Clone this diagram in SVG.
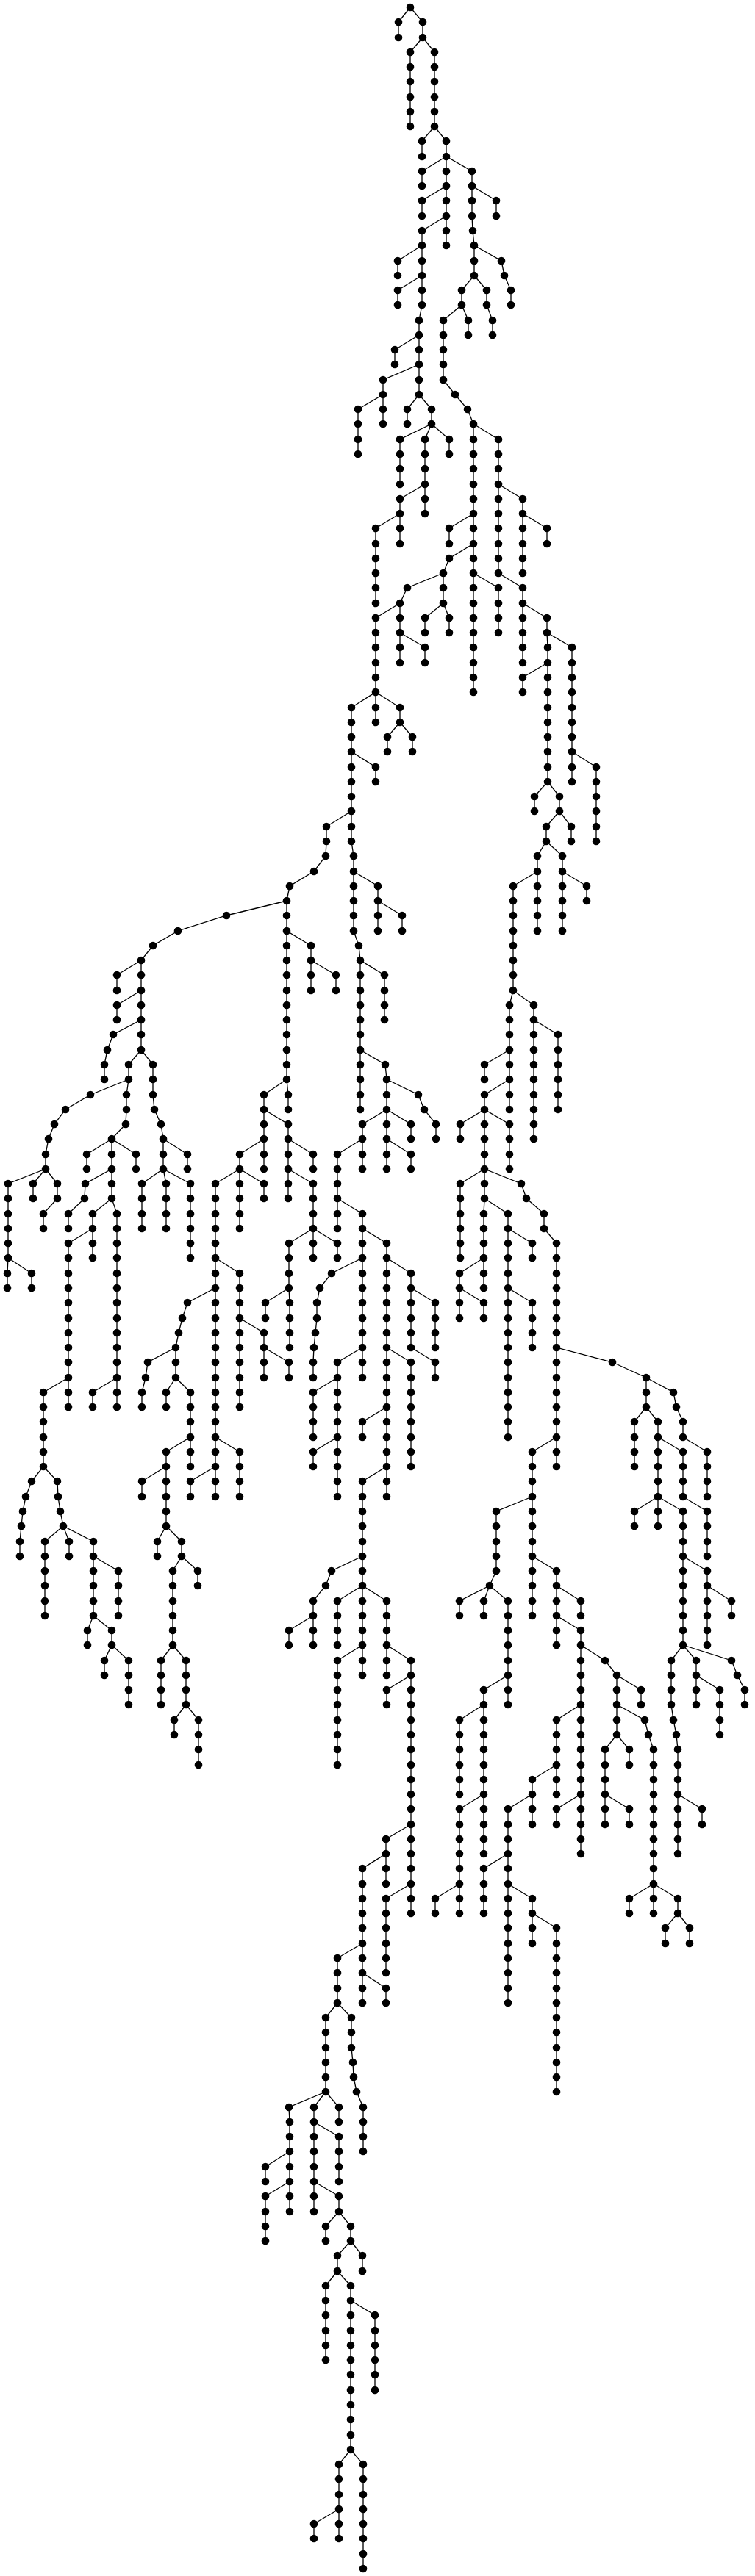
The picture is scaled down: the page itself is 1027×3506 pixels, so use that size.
<svg xmlns="http://www.w3.org/2000/svg" width="1027" height="3506" viewBox="0 0 1027 3506">
<style>
.e{fill:none;stroke:#000;stroke-width:1.3}
circle{fill:#000;r:5.3px}
</style>
<rect width="1027" height="3506" fill="#fff"/>
<g id="connectors">
<path class="e" d="M558 10L542 30V51M558 10L575 30V51M575 51L558 71V172M575 51L591 71V172M591 172L574 192V213M591 172L607 192V213M607 213L574 233V253M607 213V253M607 253L574 273V294M607 253V294M607 294L574 314V334M607 294V334M574 334L541 355V375M574 334V375M574 375L541 395V415M574 375V415L570 436M607 213L642 233V253M642 253L675 273V294M642 253V294L643 314L645 334M645 334L682 355L686 375L695 395V415M645 334V375M645 375L628 395V415M628 415L603 436M628 415L637 436V456M645 375L662 395V415L670 436V456M570 436V456M570 456L537 476V496M570 456V537M570 496L521 517V537M521 537L487 557V618M521 537V577M570 537L554 557V577M570 537L587 557V577M587 577L544 598V659M587 577L578 598V659M587 577L611 598V618M578 659L544 679V699M578 659V699M544 699L511 719V821M544 699V740M603 436V517M603 517L619 537L636 557L644 577M644 577V699M644 699L611 719V740M644 699V740M644 740L611 760L603 780M603 780L554 800L544 821M544 821L511 841V861M544 821V861M603 780V821M603 821L578 841V861M603 821L611 841V861M644 740V780M644 780V861M644 780L678 800V861M644 577L678 598V659M678 659V780M678 780L711 800V821M711 821V861M711 821L744 841V861M678 659L711 679V699M711 699V780M711 699L744 719V740"/>
<path class="e" d="M511 861V942M511 942V983M511 942L544 963V983M544 983L527 1003V1023M544 983L561 1003V1023M511 942L478 963V1023M478 1023L511 1044V1064M478 1023V1104M478 1104L444 1125V1145L443 1165L427 1186L394 1206L390 1226M478 1104V1145L481 1165V1186M481 1186V1267M481 1186L514 1206V1226M514 1226V1267M514 1226L547 1246V1267M544 861V902M544 861L578 881V902M644 861V942M711 861V902M744 861L745 881V902M745 902L711 922V942M745 902V1064M745 1064L727 1084V1104M745 1064L761 1084V1104M761 1104L777 1125V1145M761 1104L743 1125V1145M743 1145L731 1165V1186M731 1186L698 1206V1348M731 1186V1267M743 1145L765 1165V1186M765 1186V1267M765 1186L798 1206V1226M744 861L778 881V1023M778 1023V1064M778 1023L811 1044V1145"/>
<path class="e" d="M390 1226V1469M390 1469L392 1490V1510M390 1469L359 1490V1510M359 1510V1550M359 1510L392 1530V1550M359 1550L326 1571V1591M359 1550V1591M326 1591L293 1611V1631M326 1591V1631M326 1591L359 1611V1631M392 1550L426 1571V1591M392 1550V1591M392 1591V1631M392 1591L426 1611V1631M390 1267L423 1287V1307M423 1307V1348M423 1307L457 1327V1348M390 1226L308 1246L242 1267L208 1287L192 1307M192 1307L159 1327V1348M192 1307V1348M192 1348L159 1368V1388M192 1348V1388M192 1388L154 1408L146 1429L142 1449V1469M192 1388V1429M192 1429L175 1449V1469M192 1429L208 1449V1490L210 1510L219 1530L222 1550M175 1469L123 1490L89 1510L74 1530L66 1550L62 1571V1591M62 1591L11 1611V1631M62 1591L45 1611V1631M62 1591L78 1611V1631M175 1469L172 1490V1510L171 1530L152 1550M152 1550L118 1571V1591M152 1550V1591M152 1550L185 1571V1591M152 1591L116 1611L115 1631M152 1591V1631M222 1550L255 1571V1591M222 1550V1591M222 1591L193 1611V1631M222 1591L226 1611V1631M222 1591L259 1611V1631M481 1267L488 1287L490 1307M490 1307L523 1327V1388M490 1307V1429M490 1429V1510M490 1429L524 1449L526 1469M526 1469L569 1490L577 1510L593 1530V1550M526 1469V1510M526 1510L493 1530V1550M526 1510V1550M526 1510L559 1530V1550M493 1550L459 1571V1631M493 1550V1591M526 1550V1591M526 1550L559 1571V1591M698 1348L693 1368V1429M693 1429L659 1449V1469M693 1429V1469M693 1469V1510M693 1469L659 1490V1510M659 1510L626 1530V1550M659 1510L693 1530V1591M659 1510V1591M659 1591L626 1611V1712M659 1591V1631M659 1591L709 1611L716 1631M698 1348L726 1368V1388M726 1388V1550M726 1388L759 1408V1510"/>
<path class="e" d="M11 1631V1712M11 1712L10 1733V1753M11 1712L43 1733V1753M78 1631L59 1652V1672M115 1631L93 1652V1672M152 1631L126 1652V1672M126 1672V1712M126 1672L93 1692V1875M93 1875V1915M93 1875L59 1895V1996M59 1996L43 2016L35 2037M59 1996L78 2016L79 2037M152 1631L159 1652V1875M159 1875L126 1895V1915M159 1875V1915M193 1631V1672M226 1631V1672M259 1631V1712M293 1631V1753M293 1712L326 1733V1794M326 1794V1915M326 1794L359 1814V1834M359 1834V1875M359 1834L393 1854V1875M293 1753L255 1773L248 1794L243 1814L239 1834M239 1834L201 1854L198 1875L193 1895V1915M239 1834V1875M239 1875L226 1895V1915M239 1875L259 1895V1956M259 1956V1996M259 1956L226 1976V1996M226 1996L193 2016V2037M226 1996V2037M293 1753V1956M293 1956V1996M293 1996L259 2016V2037M293 1996V2037M293 1956L326 1976V2037M326 1631V1672M426 1631V1672M426 1672L393 1692V1753M426 1672V1712M426 1672L459 1692V1712M393 1753L361 1773V1794M393 1753L394 1773V1834M459 1631V1672M459 1631L493 1652V1712M493 1672L526 1692V1712M493 1712L451 1733L435 1753L431 1773V1794L429 1814L427 1834L426 1854V1875M493 1712V1834M493 1834V1875M493 1834L459 1854V1875M459 1875L426 1895V1956M459 1875V1956M459 1956L426 1976V1996M459 1956V2037M526 1712V1834M526 1712L559 1733V1753M559 1753V1834M559 1753L592 1773V1834M559 1834L592 1854V1875M526 1834V1915M526 1834L559 1854V1996M526 1915L493 1935V1956M526 1915V1996M526 1996L493 2016V2037M526 1996V2037M659 1631L658 1652V1712M658 1712L625 1733V1753M658 1712V1753M625 1753V1794M625 1753L658 1773V1794M659 1631L691 1652V1672M691 1672L724 1692V1712M691 1672V1753M691 1753L724 1773V1834M691 1753V1956M716 1631L740 1652V1672L757 1692M757 1692V1834M757 1834V1956M757 1956V1996M757 1956L724 1976V2037M757 1834L833 1854L879 1875M879 1875V1915M879 1915L863 1935V1996M879 1915L895 1935V1956M895 1956V2037M895 1956L929 1976V2037M879 1875L916 1895L920 1915L929 1935V1956M929 1956L962 1976V2037"/>
<path class="e" d="M35 2037L31 2057L29 2077L27 2098V2118M79 2037L82 2057L86 2077M86 2077L61 2098V2199M86 2077L94 2098V2118M86 2077L127 2098V2118M127 2118L161 2138V2199M127 2118V2199M127 2199L119 2219V2239M127 2199L152 2219V2239M152 2239L142 2260V2280M152 2239L175 2260V2320M226 2037V2077M226 2077L214 2098V2118M226 2077L247 2098V2118M247 2118L269 2138V2158M247 2118L235 2138V2239M235 2239L219 2260V2320M235 2239L253 2260V2320M253 2320L237 2341V2361M253 2320L270 2341V2402M493 2037V2118M493 2118L451 2138L443 2158L426 2179V2199M426 2199L393 2219V2239M426 2199V2239M493 2118V2158M493 2158L459 2179V2239M493 2158V2239M493 2158L526 2179V2239M493 2239L459 2260V2402M493 2239V2280M526 2239V2280M526 2239L559 2260V2280M559 2280L526 2300V2320M559 2280V2483M724 2037L675 2057V2138L666 2158M666 2158L625 2179V2199M666 2158L658 2179V2199M666 2158L691 2179V2280M691 2280V2320M691 2280L658 2300V2320M658 2320L625 2341V2442M658 2320V2442M724 2037V2118M724 2118V2199M724 2118L757 2138V2158M757 2158L790 2179V2199M757 2158V2199M757 2199V2239M757 2199L790 2219V2239M790 2239V2320M790 2239L823 2260L839 2280M839 2280L872 2300V2320M839 2280V2320M839 2320V2361M839 2320L877 2341L882 2361L889 2381V2564M839 2361L823 2381V2442M839 2361L856 2381V2402M790 2320L757 2341V2402M790 2320V2442M757 2402L724 2422V2442M757 2402V2442M895 2037L863 2057V2077M895 2037V2077M895 2037L929 2057V2118M929 2037L962 2057V2118M929 2118V2239M929 2118L962 2138V2158M962 2158V2239M962 2158L995 2179V2199M929 2239L913 2260V2320L916 2341L920 2361L922 2381V2523M929 2239L947 2260V2280M947 2280V2320M947 2280L979 2300V2361M929 2239L995 2260L1003 2280L1013 2300V2320"/>
<path class="e" d="M922 2442L955 2462V2483M889 2564L856 2584V2604M889 2564V2604M889 2564L922 2584V2604M922 2604L905 2624V2645M922 2604L938 2624V2645M823 2442V2483M823 2442L856 2462V2483M790 2442L757 2462V2483M790 2442V2523M724 2442V2483M724 2442L691 2462V2523M691 2523L658 2543V2604M691 2523V2564M691 2564V2726M691 2564L724 2584V2604M724 2604V2645M724 2604L757 2624V2847M658 2442L625 2462V2564M658 2442V2523M625 2564L592 2584V2604M625 2564V2604M559 2483L525 2503V2523M525 2523V2564M525 2523L493 2543V2645M493 2645V2685M493 2685V2726M493 2685L525 2706V2726M493 2645L459 2665V2726M459 2726L443 2746V2847M459 2726L478 2746V2787L480 2807L481 2827L485 2847L494 2868V2928M443 2847L393 2868L394 2888V3010M394 2928L361 2949V2969M394 2969L361 2989V3050M443 2847L427 2868V2888M443 2847L461 2868V2888M427 2888V2969M427 2888L461 2908V2969M427 2969V3010M427 2969L461 2989V3010M461 3010L443 3030V3050M461 3010L477 3030V3050M477 3050L493 3070V3091M477 3050L459 3070V3091M459 3091L443 3111V3212M459 3091L477 3111V3131M477 3131L510 3151V3253M477 3131V3334M477 3334L461 3354V3415M477 3334L494 3354V3496M461 3415L427 3435V3455M461 3415V3455M559 2483V2564M559 2564L525 2584V2685M559 2564V2604"/>
</g>
<g id="nodes">
<circle id="n558_10" cx="558" cy="10"/>
<circle id="n542_30" cx="542" cy="30"/><circle id="n542_51" cx="542" cy="51"/>
<circle id="n575_30" cx="575" cy="30"/><circle id="n575_51" cx="575" cy="51"/>
<circle id="n558_71" cx="558" cy="71"/><circle id="n558_91" cx="558" cy="91"/><circle id="n558_111" cx="558" cy="111"/><circle id="n558_132" cx="558" cy="132"/><circle id="n558_152" cx="558" cy="152"/><circle id="n558_172" cx="558" cy="172"/>
<circle id="n591_71" cx="591" cy="71"/><circle id="n591_91" cx="591" cy="91"/><circle id="n591_111" cx="591" cy="111"/><circle id="n591_132" cx="591" cy="132"/><circle id="n591_152" cx="591" cy="152"/><circle id="n591_172" cx="591" cy="172"/>
<circle id="n574_192" cx="574" cy="192"/><circle id="n574_213" cx="574" cy="213"/>
<circle id="n607_192" cx="607" cy="192"/><circle id="n607_213" cx="607" cy="213"/>
<circle id="n574_233" cx="574" cy="233"/><circle id="n574_253" cx="574" cy="253"/>
<circle id="n607_233" cx="607" cy="233"/><circle id="n607_253" cx="607" cy="253"/>
<circle id="n574_273" cx="574" cy="273"/><circle id="n574_294" cx="574" cy="294"/>
<circle id="n607_273" cx="607" cy="273"/><circle id="n607_294" cx="607" cy="294"/>
<circle id="n574_314" cx="574" cy="314"/><circle id="n574_334" cx="574" cy="334"/>
<circle id="n607_314" cx="607" cy="314"/><circle id="n607_334" cx="607" cy="334"/>
<circle id="n541_355" cx="541" cy="355"/><circle id="n541_375" cx="541" cy="375"/>
<circle id="n574_355" cx="574" cy="355"/><circle id="n574_375" cx="574" cy="375"/>
<circle id="n541_395" cx="541" cy="395"/><circle id="n541_415" cx="541" cy="415"/>
<circle id="n574_395" cx="574" cy="395"/><circle id="n574_415" cx="574" cy="415"/><circle id="n570_436" cx="570" cy="436"/>
<circle id="n642_233" cx="642" cy="233"/><circle id="n642_253" cx="642" cy="253"/>
<circle id="n675_273" cx="675" cy="273"/><circle id="n675_294" cx="675" cy="294"/>
<circle id="n642_273" cx="642" cy="273"/><circle id="n642_294" cx="642" cy="294"/><circle id="n643_314" cx="643" cy="314"/><circle id="n645_334" cx="645" cy="334"/>
<circle id="n682_355" cx="682" cy="355"/><circle id="n686_375" cx="686" cy="375"/><circle id="n695_395" cx="695" cy="395"/><circle id="n695_415" cx="695" cy="415"/>
<circle id="n645_355" cx="645" cy="355"/><circle id="n645_375" cx="645" cy="375"/>
<circle id="n628_395" cx="628" cy="395"/><circle id="n628_415" cx="628" cy="415"/>
<circle id="n603_436" cx="603" cy="436"/>
<circle id="n637_436" cx="637" cy="436"/><circle id="n637_456" cx="637" cy="456"/>
<circle id="n662_395" cx="662" cy="395"/><circle id="n662_415" cx="662" cy="415"/><circle id="n670_436" cx="670" cy="436"/><circle id="n670_456" cx="670" cy="456"/>
<circle id="n570_456" cx="570" cy="456"/>
<circle id="n537_476" cx="537" cy="476"/><circle id="n537_496" cx="537" cy="496"/>
<circle id="n570_476" cx="570" cy="476"/><circle id="n570_496" cx="570" cy="496"/><circle id="n570_517" cx="570" cy="517"/><circle id="n570_537" cx="570" cy="537"/>
<circle id="n521_517" cx="521" cy="517"/><circle id="n521_537" cx="521" cy="537"/>
<circle id="n487_557" cx="487" cy="557"/><circle id="n487_577" cx="487" cy="577"/><circle id="n487_598" cx="487" cy="598"/><circle id="n487_618" cx="487" cy="618"/>
<circle id="n521_557" cx="521" cy="557"/><circle id="n521_577" cx="521" cy="577"/>
<circle id="n554_557" cx="554" cy="557"/><circle id="n554_577" cx="554" cy="577"/>
<circle id="n587_557" cx="587" cy="557"/><circle id="n587_577" cx="587" cy="577"/>
<circle id="n544_598" cx="544" cy="598"/><circle id="n544_618" cx="544" cy="618"/><circle id="n544_638" cx="544" cy="638"/><circle id="n544_659" cx="544" cy="659"/>
<circle id="n578_598" cx="578" cy="598"/><circle id="n578_618" cx="578" cy="618"/><circle id="n578_638" cx="578" cy="638"/><circle id="n578_659" cx="578" cy="659"/>
<circle id="n611_598" cx="611" cy="598"/><circle id="n611_618" cx="611" cy="618"/>
<circle id="n544_679" cx="544" cy="679"/><circle id="n544_699" cx="544" cy="699"/>
<circle id="n578_679" cx="578" cy="679"/><circle id="n578_699" cx="578" cy="699"/>
<circle id="n511_719" cx="511" cy="719"/><circle id="n511_740" cx="511" cy="740"/><circle id="n511_760" cx="511" cy="760"/><circle id="n511_780" cx="511" cy="780"/><circle id="n511_800" cx="511" cy="800"/><circle id="n511_821" cx="511" cy="821"/>
<circle id="n544_719" cx="544" cy="719"/><circle id="n544_740" cx="544" cy="740"/>
<circle id="n603_456" cx="603" cy="456"/><circle id="n603_476" cx="603" cy="476"/><circle id="n603_496" cx="603" cy="496"/><circle id="n603_517" cx="603" cy="517"/>
<circle id="n619_537" cx="619" cy="537"/><circle id="n636_557" cx="636" cy="557"/><circle id="n644_577" cx="644" cy="577"/>
<circle id="n644_598" cx="644" cy="598"/><circle id="n644_618" cx="644" cy="618"/><circle id="n644_638" cx="644" cy="638"/><circle id="n644_659" cx="644" cy="659"/><circle id="n644_679" cx="644" cy="679"/><circle id="n644_699" cx="644" cy="699"/>
<circle id="n611_719" cx="611" cy="719"/><circle id="n611_740" cx="611" cy="740"/>
<circle id="n644_719" cx="644" cy="719"/><circle id="n644_740" cx="644" cy="740"/>
<circle id="n611_760" cx="611" cy="760"/><circle id="n603_780" cx="603" cy="780"/>
<circle id="n554_800" cx="554" cy="800"/><circle id="n544_821" cx="544" cy="821"/>
<circle id="n511_841" cx="511" cy="841"/><circle id="n511_861" cx="511" cy="861"/>
<circle id="n544_841" cx="544" cy="841"/><circle id="n544_861" cx="544" cy="861"/>
<circle id="n603_800" cx="603" cy="800"/><circle id="n603_821" cx="603" cy="821"/>
<circle id="n578_841" cx="578" cy="841"/><circle id="n578_861" cx="578" cy="861"/>
<circle id="n611_841" cx="611" cy="841"/><circle id="n611_861" cx="611" cy="861"/>
<circle id="n644_760" cx="644" cy="760"/><circle id="n644_780" cx="644" cy="780"/>
<circle id="n644_800" cx="644" cy="800"/><circle id="n644_821" cx="644" cy="821"/><circle id="n644_841" cx="644" cy="841"/><circle id="n644_861" cx="644" cy="861"/>
<circle id="n678_800" cx="678" cy="800"/><circle id="n678_821" cx="678" cy="821"/><circle id="n678_841" cx="678" cy="841"/><circle id="n678_861" cx="678" cy="861"/>
<circle id="n678_598" cx="678" cy="598"/><circle id="n678_618" cx="678" cy="618"/><circle id="n678_638" cx="678" cy="638"/><circle id="n678_659" cx="678" cy="659"/>
<circle id="n678_679" cx="678" cy="679"/><circle id="n678_699" cx="678" cy="699"/><circle id="n678_719" cx="678" cy="719"/><circle id="n678_740" cx="678" cy="740"/><circle id="n678_760" cx="678" cy="760"/><circle id="n678_780" cx="678" cy="780"/>
<circle id="n711_800" cx="711" cy="800"/><circle id="n711_821" cx="711" cy="821"/>
<circle id="n711_841" cx="711" cy="841"/><circle id="n711_861" cx="711" cy="861"/>
<circle id="n744_841" cx="744" cy="841"/><circle id="n744_861" cx="744" cy="861"/>
<circle id="n711_679" cx="711" cy="679"/><circle id="n711_699" cx="711" cy="699"/>
<circle id="n711_719" cx="711" cy="719"/><circle id="n711_740" cx="711" cy="740"/><circle id="n711_760" cx="711" cy="760"/><circle id="n711_780" cx="711" cy="780"/>
<circle id="n744_719" cx="744" cy="719"/><circle id="n744_740" cx="744" cy="740"/>
<circle id="n511_881" cx="511" cy="881"/><circle id="n511_902" cx="511" cy="902"/><circle id="n511_922" cx="511" cy="922"/><circle id="n511_942" cx="511" cy="942"/>
<circle id="n511_963" cx="511" cy="963"/><circle id="n511_983" cx="511" cy="983"/>
<circle id="n544_963" cx="544" cy="963"/><circle id="n544_983" cx="544" cy="983"/>
<circle id="n527_1003" cx="527" cy="1003"/><circle id="n527_1023" cx="527" cy="1023"/>
<circle id="n561_1003" cx="561" cy="1003"/><circle id="n561_1023" cx="561" cy="1023"/>
<circle id="n478_963" cx="478" cy="963"/><circle id="n478_983" cx="478" cy="983"/><circle id="n478_1003" cx="478" cy="1003"/><circle id="n478_1023" cx="478" cy="1023"/>
<circle id="n511_1044" cx="511" cy="1044"/><circle id="n511_1064" cx="511" cy="1064"/>
<circle id="n478_1044" cx="478" cy="1044"/><circle id="n478_1064" cx="478" cy="1064"/><circle id="n478_1084" cx="478" cy="1084"/><circle id="n478_1104" cx="478" cy="1104"/>
<circle id="n444_1125" cx="444" cy="1125"/><circle id="n444_1145" cx="444" cy="1145"/><circle id="n443_1165" cx="443" cy="1165"/><circle id="n427_1186" cx="427" cy="1186"/><circle id="n394_1206" cx="394" cy="1206"/><circle id="n390_1226" cx="390" cy="1226"/>
<circle id="n478_1125" cx="478" cy="1125"/><circle id="n478_1145" cx="478" cy="1145"/><circle id="n481_1165" cx="481" cy="1165"/><circle id="n481_1186" cx="481" cy="1186"/>
<circle id="n481_1206" cx="481" cy="1206"/><circle id="n481_1226" cx="481" cy="1226"/><circle id="n481_1246" cx="481" cy="1246"/><circle id="n481_1267" cx="481" cy="1267"/>
<circle id="n514_1206" cx="514" cy="1206"/><circle id="n514_1226" cx="514" cy="1226"/>
<circle id="n514_1246" cx="514" cy="1246"/><circle id="n514_1267" cx="514" cy="1267"/>
<circle id="n547_1246" cx="547" cy="1246"/><circle id="n547_1267" cx="547" cy="1267"/>
<circle id="n544_881" cx="544" cy="881"/><circle id="n544_902" cx="544" cy="902"/>
<circle id="n578_881" cx="578" cy="881"/><circle id="n578_902" cx="578" cy="902"/>
<circle id="n644_881" cx="644" cy="881"/><circle id="n644_902" cx="644" cy="902"/><circle id="n644_922" cx="644" cy="922"/><circle id="n644_942" cx="644" cy="942"/>
<circle id="n711_881" cx="711" cy="881"/><circle id="n711_902" cx="711" cy="902"/>
<circle id="n745_881" cx="745" cy="881"/><circle id="n745_902" cx="745" cy="902"/>
<circle id="n711_922" cx="711" cy="922"/><circle id="n711_942" cx="711" cy="942"/>
<circle id="n745_922" cx="745" cy="922"/><circle id="n745_942" cx="745" cy="942"/><circle id="n745_963" cx="745" cy="963"/><circle id="n745_983" cx="745" cy="983"/><circle id="n745_1003" cx="745" cy="1003"/><circle id="n745_1023" cx="745" cy="1023"/><circle id="n745_1044" cx="745" cy="1044"/><circle id="n745_1064" cx="745" cy="1064"/>
<circle id="n727_1084" cx="727" cy="1084"/><circle id="n727_1104" cx="727" cy="1104"/>
<circle id="n761_1084" cx="761" cy="1084"/><circle id="n761_1104" cx="761" cy="1104"/>
<circle id="n777_1125" cx="777" cy="1125"/><circle id="n777_1145" cx="777" cy="1145"/>
<circle id="n743_1125" cx="743" cy="1125"/><circle id="n743_1145" cx="743" cy="1145"/>
<circle id="n731_1165" cx="731" cy="1165"/><circle id="n731_1186" cx="731" cy="1186"/>
<circle id="n698_1206" cx="698" cy="1206"/><circle id="n698_1226" cx="698" cy="1226"/><circle id="n698_1246" cx="698" cy="1246"/><circle id="n698_1267" cx="698" cy="1267"/><circle id="n698_1287" cx="698" cy="1287"/><circle id="n698_1307" cx="698" cy="1307"/><circle id="n698_1327" cx="698" cy="1327"/><circle id="n698_1348" cx="698" cy="1348"/>
<circle id="n731_1206" cx="731" cy="1206"/><circle id="n731_1226" cx="731" cy="1226"/><circle id="n731_1246" cx="731" cy="1246"/><circle id="n731_1267" cx="731" cy="1267"/>
<circle id="n765_1165" cx="765" cy="1165"/><circle id="n765_1186" cx="765" cy="1186"/>
<circle id="n765_1206" cx="765" cy="1206"/><circle id="n765_1226" cx="765" cy="1226"/><circle id="n765_1246" cx="765" cy="1246"/><circle id="n765_1267" cx="765" cy="1267"/>
<circle id="n798_1206" cx="798" cy="1206"/><circle id="n798_1226" cx="798" cy="1226"/>
<circle id="n778_881" cx="778" cy="881"/><circle id="n778_902" cx="778" cy="902"/><circle id="n778_922" cx="778" cy="922"/><circle id="n778_942" cx="778" cy="942"/><circle id="n778_963" cx="778" cy="963"/><circle id="n778_983" cx="778" cy="983"/><circle id="n778_1003" cx="778" cy="1003"/><circle id="n778_1023" cx="778" cy="1023"/>
<circle id="n778_1044" cx="778" cy="1044"/><circle id="n778_1064" cx="778" cy="1064"/>
<circle id="n811_1044" cx="811" cy="1044"/><circle id="n811_1064" cx="811" cy="1064"/><circle id="n811_1084" cx="811" cy="1084"/><circle id="n811_1104" cx="811" cy="1104"/><circle id="n811_1125" cx="811" cy="1125"/><circle id="n811_1145" cx="811" cy="1145"/>
<circle id="n390_1246" cx="390" cy="1246"/><circle id="n390_1267" cx="390" cy="1267"/><circle id="n390_1287" cx="390" cy="1287"/><circle id="n390_1307" cx="390" cy="1307"/><circle id="n390_1327" cx="390" cy="1327"/><circle id="n390_1348" cx="390" cy="1348"/><circle id="n390_1368" cx="390" cy="1368"/><circle id="n390_1388" cx="390" cy="1388"/><circle id="n390_1408" cx="390" cy="1408"/><circle id="n390_1429" cx="390" cy="1429"/><circle id="n390_1449" cx="390" cy="1449"/><circle id="n390_1469" cx="390" cy="1469"/>
<circle id="n392_1490" cx="392" cy="1490"/><circle id="n392_1510" cx="392" cy="1510"/>
<circle id="n359_1490" cx="359" cy="1490"/><circle id="n359_1510" cx="359" cy="1510"/>
<circle id="n359_1530" cx="359" cy="1530"/><circle id="n359_1550" cx="359" cy="1550"/>
<circle id="n392_1530" cx="392" cy="1530"/><circle id="n392_1550" cx="392" cy="1550"/>
<circle id="n326_1571" cx="326" cy="1571"/><circle id="n326_1591" cx="326" cy="1591"/>
<circle id="n359_1571" cx="359" cy="1571"/><circle id="n359_1591" cx="359" cy="1591"/>
<circle id="n293_1611" cx="293" cy="1611"/><circle id="n293_1631" cx="293" cy="1631"/>
<circle id="n326_1611" cx="326" cy="1611"/><circle id="n326_1631" cx="326" cy="1631"/>
<circle id="n359_1611" cx="359" cy="1611"/><circle id="n359_1631" cx="359" cy="1631"/>
<circle id="n426_1571" cx="426" cy="1571"/><circle id="n426_1591" cx="426" cy="1591"/>
<circle id="n392_1571" cx="392" cy="1571"/><circle id="n392_1591" cx="392" cy="1591"/>
<circle id="n392_1611" cx="392" cy="1611"/><circle id="n392_1631" cx="392" cy="1631"/>
<circle id="n426_1611" cx="426" cy="1611"/><circle id="n426_1631" cx="426" cy="1631"/>
<circle id="n423_1287" cx="423" cy="1287"/><circle id="n423_1307" cx="423" cy="1307"/>
<circle id="n423_1327" cx="423" cy="1327"/><circle id="n423_1348" cx="423" cy="1348"/>
<circle id="n457_1327" cx="457" cy="1327"/><circle id="n457_1348" cx="457" cy="1348"/>
<circle id="n308_1246" cx="308" cy="1246"/><circle id="n242_1267" cx="242" cy="1267"/><circle id="n208_1287" cx="208" cy="1287"/><circle id="n192_1307" cx="192" cy="1307"/>
<circle id="n159_1327" cx="159" cy="1327"/><circle id="n159_1348" cx="159" cy="1348"/>
<circle id="n192_1327" cx="192" cy="1327"/><circle id="n192_1348" cx="192" cy="1348"/>
<circle id="n159_1368" cx="159" cy="1368"/><circle id="n159_1388" cx="159" cy="1388"/>
<circle id="n192_1368" cx="192" cy="1368"/><circle id="n192_1388" cx="192" cy="1388"/>
<circle id="n154_1408" cx="154" cy="1408"/><circle id="n146_1429" cx="146" cy="1429"/><circle id="n142_1449" cx="142" cy="1449"/><circle id="n142_1469" cx="142" cy="1469"/>
<circle id="n192_1408" cx="192" cy="1408"/><circle id="n192_1429" cx="192" cy="1429"/>
<circle id="n175_1449" cx="175" cy="1449"/><circle id="n175_1469" cx="175" cy="1469"/>
<circle id="n208_1449" cx="208" cy="1449"/><circle id="n208_1469" cx="208" cy="1469"/><circle id="n208_1490" cx="208" cy="1490"/><circle id="n210_1510" cx="210" cy="1510"/><circle id="n219_1530" cx="219" cy="1530"/><circle id="n222_1550" cx="222" cy="1550"/>
<circle id="n123_1490" cx="123" cy="1490"/><circle id="n89_1510" cx="89" cy="1510"/><circle id="n74_1530" cx="74" cy="1530"/><circle id="n66_1550" cx="66" cy="1550"/><circle id="n62_1571" cx="62" cy="1571"/><circle id="n62_1591" cx="62" cy="1591"/>
<circle id="n11_1611" cx="11" cy="1611"/><circle id="n11_1631" cx="11" cy="1631"/>
<circle id="n45_1611" cx="45" cy="1611"/><circle id="n45_1631" cx="45" cy="1631"/>
<circle id="n78_1611" cx="78" cy="1611"/><circle id="n78_1631" cx="78" cy="1631"/>
<circle id="n172_1490" cx="172" cy="1490"/><circle id="n172_1510" cx="172" cy="1510"/><circle id="n171_1530" cx="171" cy="1530"/><circle id="n152_1550" cx="152" cy="1550"/>
<circle id="n118_1571" cx="118" cy="1571"/><circle id="n118_1591" cx="118" cy="1591"/>
<circle id="n152_1571" cx="152" cy="1571"/><circle id="n152_1591" cx="152" cy="1591"/>
<circle id="n185_1571" cx="185" cy="1571"/><circle id="n185_1591" cx="185" cy="1591"/>
<circle id="n116_1611" cx="116" cy="1611"/><circle id="n115_1631" cx="115" cy="1631"/>
<circle id="n152_1611" cx="152" cy="1611"/><circle id="n152_1631" cx="152" cy="1631"/>
<circle id="n255_1571" cx="255" cy="1571"/><circle id="n255_1591" cx="255" cy="1591"/>
<circle id="n222_1571" cx="222" cy="1571"/><circle id="n222_1591" cx="222" cy="1591"/>
<circle id="n193_1611" cx="193" cy="1611"/><circle id="n193_1631" cx="193" cy="1631"/>
<circle id="n226_1611" cx="226" cy="1611"/><circle id="n226_1631" cx="226" cy="1631"/>
<circle id="n259_1611" cx="259" cy="1611"/><circle id="n259_1631" cx="259" cy="1631"/>
<circle id="n488_1287" cx="488" cy="1287"/><circle id="n490_1307" cx="490" cy="1307"/>
<circle id="n523_1327" cx="523" cy="1327"/><circle id="n523_1348" cx="523" cy="1348"/><circle id="n523_1368" cx="523" cy="1368"/><circle id="n523_1388" cx="523" cy="1388"/>
<circle id="n490_1327" cx="490" cy="1327"/><circle id="n490_1348" cx="490" cy="1348"/><circle id="n490_1368" cx="490" cy="1368"/><circle id="n490_1388" cx="490" cy="1388"/><circle id="n490_1408" cx="490" cy="1408"/><circle id="n490_1429" cx="490" cy="1429"/>
<circle id="n490_1449" cx="490" cy="1449"/><circle id="n490_1469" cx="490" cy="1469"/><circle id="n490_1490" cx="490" cy="1490"/><circle id="n490_1510" cx="490" cy="1510"/>
<circle id="n524_1449" cx="524" cy="1449"/><circle id="n526_1469" cx="526" cy="1469"/>
<circle id="n569_1490" cx="569" cy="1490"/><circle id="n577_1510" cx="577" cy="1510"/><circle id="n593_1530" cx="593" cy="1530"/><circle id="n593_1550" cx="593" cy="1550"/>
<circle id="n526_1490" cx="526" cy="1490"/><circle id="n526_1510" cx="526" cy="1510"/>
<circle id="n493_1530" cx="493" cy="1530"/><circle id="n493_1550" cx="493" cy="1550"/>
<circle id="n526_1530" cx="526" cy="1530"/><circle id="n526_1550" cx="526" cy="1550"/>
<circle id="n559_1530" cx="559" cy="1530"/><circle id="n559_1550" cx="559" cy="1550"/>
<circle id="n459_1571" cx="459" cy="1571"/><circle id="n459_1591" cx="459" cy="1591"/><circle id="n459_1611" cx="459" cy="1611"/><circle id="n459_1631" cx="459" cy="1631"/>
<circle id="n493_1571" cx="493" cy="1571"/><circle id="n493_1591" cx="493" cy="1591"/>
<circle id="n526_1571" cx="526" cy="1571"/><circle id="n526_1591" cx="526" cy="1591"/>
<circle id="n559_1571" cx="559" cy="1571"/><circle id="n559_1591" cx="559" cy="1591"/>
<circle id="n693_1368" cx="693" cy="1368"/><circle id="n693_1388" cx="693" cy="1388"/><circle id="n693_1408" cx="693" cy="1408"/><circle id="n693_1429" cx="693" cy="1429"/>
<circle id="n659_1449" cx="659" cy="1449"/><circle id="n659_1469" cx="659" cy="1469"/>
<circle id="n693_1449" cx="693" cy="1449"/><circle id="n693_1469" cx="693" cy="1469"/>
<circle id="n693_1490" cx="693" cy="1490"/><circle id="n693_1510" cx="693" cy="1510"/>
<circle id="n659_1490" cx="659" cy="1490"/><circle id="n659_1510" cx="659" cy="1510"/>
<circle id="n626_1530" cx="626" cy="1530"/><circle id="n626_1550" cx="626" cy="1550"/>
<circle id="n693_1530" cx="693" cy="1530"/><circle id="n693_1550" cx="693" cy="1550"/><circle id="n693_1571" cx="693" cy="1571"/><circle id="n693_1591" cx="693" cy="1591"/>
<circle id="n659_1530" cx="659" cy="1530"/><circle id="n659_1550" cx="659" cy="1550"/><circle id="n659_1571" cx="659" cy="1571"/><circle id="n659_1591" cx="659" cy="1591"/>
<circle id="n626_1611" cx="626" cy="1611"/><circle id="n626_1631" cx="626" cy="1631"/><circle id="n626_1652" cx="626" cy="1652"/><circle id="n626_1672" cx="626" cy="1672"/><circle id="n626_1692" cx="626" cy="1692"/><circle id="n626_1712" cx="626" cy="1712"/>
<circle id="n659_1611" cx="659" cy="1611"/><circle id="n659_1631" cx="659" cy="1631"/>
<circle id="n709_1611" cx="709" cy="1611"/><circle id="n716_1631" cx="716" cy="1631"/>
<circle id="n726_1368" cx="726" cy="1368"/><circle id="n726_1388" cx="726" cy="1388"/>
<circle id="n726_1408" cx="726" cy="1408"/><circle id="n726_1429" cx="726" cy="1429"/><circle id="n726_1449" cx="726" cy="1449"/><circle id="n726_1469" cx="726" cy="1469"/><circle id="n726_1490" cx="726" cy="1490"/><circle id="n726_1510" cx="726" cy="1510"/><circle id="n726_1530" cx="726" cy="1530"/><circle id="n726_1550" cx="726" cy="1550"/>
<circle id="n759_1408" cx="759" cy="1408"/><circle id="n759_1429" cx="759" cy="1429"/><circle id="n759_1449" cx="759" cy="1449"/><circle id="n759_1469" cx="759" cy="1469"/><circle id="n759_1490" cx="759" cy="1490"/><circle id="n759_1510" cx="759" cy="1510"/>
<circle id="n11_1652" cx="11" cy="1652"/><circle id="n11_1672" cx="11" cy="1672"/><circle id="n11_1692" cx="11" cy="1692"/><circle id="n11_1712" cx="11" cy="1712"/>
<circle id="n10_1733" cx="10" cy="1733"/><circle id="n10_1753" cx="10" cy="1753"/>
<circle id="n43_1733" cx="43" cy="1733"/><circle id="n43_1753" cx="43" cy="1753"/>
<circle id="n59_1652" cx="59" cy="1652"/><circle id="n59_1672" cx="59" cy="1672"/>
<circle id="n93_1652" cx="93" cy="1652"/><circle id="n93_1672" cx="93" cy="1672"/>
<circle id="n126_1652" cx="126" cy="1652"/><circle id="n126_1672" cx="126" cy="1672"/>
<circle id="n126_1692" cx="126" cy="1692"/><circle id="n126_1712" cx="126" cy="1712"/>
<circle id="n93_1692" cx="93" cy="1692"/><circle id="n93_1712" cx="93" cy="1712"/><circle id="n93_1733" cx="93" cy="1733"/><circle id="n93_1753" cx="93" cy="1753"/><circle id="n93_1773" cx="93" cy="1773"/><circle id="n93_1794" cx="93" cy="1794"/><circle id="n93_1814" cx="93" cy="1814"/><circle id="n93_1834" cx="93" cy="1834"/><circle id="n93_1854" cx="93" cy="1854"/><circle id="n93_1875" cx="93" cy="1875"/>
<circle id="n93_1895" cx="93" cy="1895"/><circle id="n93_1915" cx="93" cy="1915"/>
<circle id="n59_1895" cx="59" cy="1895"/><circle id="n59_1915" cx="59" cy="1915"/><circle id="n59_1935" cx="59" cy="1935"/><circle id="n59_1956" cx="59" cy="1956"/><circle id="n59_1976" cx="59" cy="1976"/><circle id="n59_1996" cx="59" cy="1996"/>
<circle id="n43_2016" cx="43" cy="2016"/><circle id="n35_2037" cx="35" cy="2037"/>
<circle id="n78_2016" cx="78" cy="2016"/><circle id="n79_2037" cx="79" cy="2037"/>
<circle id="n159_1652" cx="159" cy="1652"/><circle id="n159_1672" cx="159" cy="1672"/><circle id="n159_1692" cx="159" cy="1692"/><circle id="n159_1712" cx="159" cy="1712"/><circle id="n159_1733" cx="159" cy="1733"/><circle id="n159_1753" cx="159" cy="1753"/><circle id="n159_1773" cx="159" cy="1773"/><circle id="n159_1794" cx="159" cy="1794"/><circle id="n159_1814" cx="159" cy="1814"/><circle id="n159_1834" cx="159" cy="1834"/><circle id="n159_1854" cx="159" cy="1854"/><circle id="n159_1875" cx="159" cy="1875"/>
<circle id="n126_1895" cx="126" cy="1895"/><circle id="n126_1915" cx="126" cy="1915"/>
<circle id="n159_1895" cx="159" cy="1895"/><circle id="n159_1915" cx="159" cy="1915"/>
<circle id="n193_1652" cx="193" cy="1652"/><circle id="n193_1672" cx="193" cy="1672"/>
<circle id="n226_1652" cx="226" cy="1652"/><circle id="n226_1672" cx="226" cy="1672"/>
<circle id="n259_1652" cx="259" cy="1652"/><circle id="n259_1672" cx="259" cy="1672"/><circle id="n259_1692" cx="259" cy="1692"/><circle id="n259_1712" cx="259" cy="1712"/>
<circle id="n293_1652" cx="293" cy="1652"/><circle id="n293_1672" cx="293" cy="1672"/><circle id="n293_1692" cx="293" cy="1692"/><circle id="n293_1712" cx="293" cy="1712"/><circle id="n293_1733" cx="293" cy="1733"/><circle id="n293_1753" cx="293" cy="1753"/>
<circle id="n326_1733" cx="326" cy="1733"/><circle id="n326_1753" cx="326" cy="1753"/><circle id="n326_1773" cx="326" cy="1773"/><circle id="n326_1794" cx="326" cy="1794"/>
<circle id="n326_1814" cx="326" cy="1814"/><circle id="n326_1834" cx="326" cy="1834"/><circle id="n326_1854" cx="326" cy="1854"/><circle id="n326_1875" cx="326" cy="1875"/><circle id="n326_1895" cx="326" cy="1895"/><circle id="n326_1915" cx="326" cy="1915"/>
<circle id="n359_1814" cx="359" cy="1814"/><circle id="n359_1834" cx="359" cy="1834"/>
<circle id="n359_1854" cx="359" cy="1854"/><circle id="n359_1875" cx="359" cy="1875"/>
<circle id="n393_1854" cx="393" cy="1854"/><circle id="n393_1875" cx="393" cy="1875"/>
<circle id="n255_1773" cx="255" cy="1773"/><circle id="n248_1794" cx="248" cy="1794"/><circle id="n243_1814" cx="243" cy="1814"/><circle id="n239_1834" cx="239" cy="1834"/>
<circle id="n201_1854" cx="201" cy="1854"/><circle id="n198_1875" cx="198" cy="1875"/><circle id="n193_1895" cx="193" cy="1895"/><circle id="n193_1915" cx="193" cy="1915"/>
<circle id="n239_1854" cx="239" cy="1854"/><circle id="n239_1875" cx="239" cy="1875"/>
<circle id="n226_1895" cx="226" cy="1895"/><circle id="n226_1915" cx="226" cy="1915"/>
<circle id="n259_1895" cx="259" cy="1895"/><circle id="n259_1915" cx="259" cy="1915"/><circle id="n259_1935" cx="259" cy="1935"/><circle id="n259_1956" cx="259" cy="1956"/>
<circle id="n259_1976" cx="259" cy="1976"/><circle id="n259_1996" cx="259" cy="1996"/>
<circle id="n226_1976" cx="226" cy="1976"/><circle id="n226_1996" cx="226" cy="1996"/>
<circle id="n193_2016" cx="193" cy="2016"/><circle id="n193_2037" cx="193" cy="2037"/>
<circle id="n226_2016" cx="226" cy="2016"/><circle id="n226_2037" cx="226" cy="2037"/>
<circle id="n293_1773" cx="293" cy="1773"/><circle id="n293_1794" cx="293" cy="1794"/><circle id="n293_1814" cx="293" cy="1814"/><circle id="n293_1834" cx="293" cy="1834"/><circle id="n293_1854" cx="293" cy="1854"/><circle id="n293_1875" cx="293" cy="1875"/><circle id="n293_1895" cx="293" cy="1895"/><circle id="n293_1915" cx="293" cy="1915"/><circle id="n293_1935" cx="293" cy="1935"/><circle id="n293_1956" cx="293" cy="1956"/>
<circle id="n293_1976" cx="293" cy="1976"/><circle id="n293_1996" cx="293" cy="1996"/>
<circle id="n259_2016" cx="259" cy="2016"/><circle id="n259_2037" cx="259" cy="2037"/>
<circle id="n293_2016" cx="293" cy="2016"/><circle id="n293_2037" cx="293" cy="2037"/>
<circle id="n326_1976" cx="326" cy="1976"/><circle id="n326_1996" cx="326" cy="1996"/><circle id="n326_2016" cx="326" cy="2016"/><circle id="n326_2037" cx="326" cy="2037"/>
<circle id="n326_1652" cx="326" cy="1652"/><circle id="n326_1672" cx="326" cy="1672"/>
<circle id="n426_1652" cx="426" cy="1652"/><circle id="n426_1672" cx="426" cy="1672"/>
<circle id="n393_1692" cx="393" cy="1692"/><circle id="n393_1712" cx="393" cy="1712"/><circle id="n393_1733" cx="393" cy="1733"/><circle id="n393_1753" cx="393" cy="1753"/>
<circle id="n426_1692" cx="426" cy="1692"/><circle id="n426_1712" cx="426" cy="1712"/>
<circle id="n459_1692" cx="459" cy="1692"/><circle id="n459_1712" cx="459" cy="1712"/>
<circle id="n361_1773" cx="361" cy="1773"/><circle id="n361_1794" cx="361" cy="1794"/>
<circle id="n394_1773" cx="394" cy="1773"/><circle id="n394_1794" cx="394" cy="1794"/><circle id="n394_1814" cx="394" cy="1814"/><circle id="n394_1834" cx="394" cy="1834"/>
<circle id="n459_1652" cx="459" cy="1652"/><circle id="n459_1672" cx="459" cy="1672"/>
<circle id="n493_1652" cx="493" cy="1652"/><circle id="n493_1672" cx="493" cy="1672"/><circle id="n493_1692" cx="493" cy="1692"/><circle id="n493_1712" cx="493" cy="1712"/>
<circle id="n526_1692" cx="526" cy="1692"/><circle id="n526_1712" cx="526" cy="1712"/>
<circle id="n451_1733" cx="451" cy="1733"/><circle id="n435_1753" cx="435" cy="1753"/><circle id="n431_1773" cx="431" cy="1773"/><circle id="n431_1794" cx="431" cy="1794"/><circle id="n429_1814" cx="429" cy="1814"/><circle id="n427_1834" cx="427" cy="1834"/><circle id="n426_1854" cx="426" cy="1854"/><circle id="n426_1875" cx="426" cy="1875"/>
<circle id="n493_1733" cx="493" cy="1733"/><circle id="n493_1753" cx="493" cy="1753"/><circle id="n493_1773" cx="493" cy="1773"/><circle id="n493_1794" cx="493" cy="1794"/><circle id="n493_1814" cx="493" cy="1814"/><circle id="n493_1834" cx="493" cy="1834"/>
<circle id="n493_1854" cx="493" cy="1854"/><circle id="n493_1875" cx="493" cy="1875"/>
<circle id="n459_1854" cx="459" cy="1854"/><circle id="n459_1875" cx="459" cy="1875"/>
<circle id="n426_1895" cx="426" cy="1895"/><circle id="n426_1915" cx="426" cy="1915"/><circle id="n426_1935" cx="426" cy="1935"/><circle id="n426_1956" cx="426" cy="1956"/>
<circle id="n459_1895" cx="459" cy="1895"/><circle id="n459_1915" cx="459" cy="1915"/><circle id="n459_1935" cx="459" cy="1935"/><circle id="n459_1956" cx="459" cy="1956"/>
<circle id="n426_1976" cx="426" cy="1976"/><circle id="n426_1996" cx="426" cy="1996"/>
<circle id="n459_1976" cx="459" cy="1976"/><circle id="n459_1996" cx="459" cy="1996"/><circle id="n459_2016" cx="459" cy="2016"/><circle id="n459_2037" cx="459" cy="2037"/>
<circle id="n526_1733" cx="526" cy="1733"/><circle id="n526_1753" cx="526" cy="1753"/><circle id="n526_1773" cx="526" cy="1773"/><circle id="n526_1794" cx="526" cy="1794"/><circle id="n526_1814" cx="526" cy="1814"/><circle id="n526_1834" cx="526" cy="1834"/>
<circle id="n559_1733" cx="559" cy="1733"/><circle id="n559_1753" cx="559" cy="1753"/>
<circle id="n559_1773" cx="559" cy="1773"/><circle id="n559_1794" cx="559" cy="1794"/><circle id="n559_1814" cx="559" cy="1814"/><circle id="n559_1834" cx="559" cy="1834"/>
<circle id="n592_1773" cx="592" cy="1773"/><circle id="n592_1794" cx="592" cy="1794"/><circle id="n592_1814" cx="592" cy="1814"/><circle id="n592_1834" cx="592" cy="1834"/>
<circle id="n592_1854" cx="592" cy="1854"/><circle id="n592_1875" cx="592" cy="1875"/>
<circle id="n526_1854" cx="526" cy="1854"/><circle id="n526_1875" cx="526" cy="1875"/><circle id="n526_1895" cx="526" cy="1895"/><circle id="n526_1915" cx="526" cy="1915"/>
<circle id="n559_1854" cx="559" cy="1854"/><circle id="n559_1875" cx="559" cy="1875"/><circle id="n559_1895" cx="559" cy="1895"/><circle id="n559_1915" cx="559" cy="1915"/><circle id="n559_1935" cx="559" cy="1935"/><circle id="n559_1956" cx="559" cy="1956"/><circle id="n559_1976" cx="559" cy="1976"/><circle id="n559_1996" cx="559" cy="1996"/>
<circle id="n493_1935" cx="493" cy="1935"/><circle id="n493_1956" cx="493" cy="1956"/>
<circle id="n526_1935" cx="526" cy="1935"/><circle id="n526_1956" cx="526" cy="1956"/><circle id="n526_1976" cx="526" cy="1976"/><circle id="n526_1996" cx="526" cy="1996"/>
<circle id="n493_2016" cx="493" cy="2016"/><circle id="n493_2037" cx="493" cy="2037"/>
<circle id="n526_2016" cx="526" cy="2016"/><circle id="n526_2037" cx="526" cy="2037"/>
<circle id="n658_1652" cx="658" cy="1652"/><circle id="n658_1672" cx="658" cy="1672"/><circle id="n658_1692" cx="658" cy="1692"/><circle id="n658_1712" cx="658" cy="1712"/>
<circle id="n625_1733" cx="625" cy="1733"/><circle id="n625_1753" cx="625" cy="1753"/>
<circle id="n658_1733" cx="658" cy="1733"/><circle id="n658_1753" cx="658" cy="1753"/>
<circle id="n625_1773" cx="625" cy="1773"/><circle id="n625_1794" cx="625" cy="1794"/>
<circle id="n658_1773" cx="658" cy="1773"/><circle id="n658_1794" cx="658" cy="1794"/>
<circle id="n691_1652" cx="691" cy="1652"/><circle id="n691_1672" cx="691" cy="1672"/>
<circle id="n724_1692" cx="724" cy="1692"/><circle id="n724_1712" cx="724" cy="1712"/>
<circle id="n691_1692" cx="691" cy="1692"/><circle id="n691_1712" cx="691" cy="1712"/><circle id="n691_1733" cx="691" cy="1733"/><circle id="n691_1753" cx="691" cy="1753"/>
<circle id="n724_1773" cx="724" cy="1773"/><circle id="n724_1794" cx="724" cy="1794"/><circle id="n724_1814" cx="724" cy="1814"/><circle id="n724_1834" cx="724" cy="1834"/>
<circle id="n691_1773" cx="691" cy="1773"/><circle id="n691_1794" cx="691" cy="1794"/><circle id="n691_1814" cx="691" cy="1814"/><circle id="n691_1834" cx="691" cy="1834"/><circle id="n691_1854" cx="691" cy="1854"/><circle id="n691_1875" cx="691" cy="1875"/><circle id="n691_1895" cx="691" cy="1895"/><circle id="n691_1915" cx="691" cy="1915"/><circle id="n691_1935" cx="691" cy="1935"/><circle id="n691_1956" cx="691" cy="1956"/>
<circle id="n740_1652" cx="740" cy="1652"/><circle id="n740_1672" cx="740" cy="1672"/><circle id="n757_1692" cx="757" cy="1692"/>
<circle id="n757_1712" cx="757" cy="1712"/><circle id="n757_1733" cx="757" cy="1733"/><circle id="n757_1753" cx="757" cy="1753"/><circle id="n757_1773" cx="757" cy="1773"/><circle id="n757_1794" cx="757" cy="1794"/><circle id="n757_1814" cx="757" cy="1814"/><circle id="n757_1834" cx="757" cy="1834"/>
<circle id="n757_1854" cx="757" cy="1854"/><circle id="n757_1875" cx="757" cy="1875"/><circle id="n757_1895" cx="757" cy="1895"/><circle id="n757_1915" cx="757" cy="1915"/><circle id="n757_1935" cx="757" cy="1935"/><circle id="n757_1956" cx="757" cy="1956"/>
<circle id="n757_1976" cx="757" cy="1976"/><circle id="n757_1996" cx="757" cy="1996"/>
<circle id="n724_1976" cx="724" cy="1976"/><circle id="n724_1996" cx="724" cy="1996"/><circle id="n724_2016" cx="724" cy="2016"/><circle id="n724_2037" cx="724" cy="2037"/>
<circle id="n833_1854" cx="833" cy="1854"/><circle id="n879_1875" cx="879" cy="1875"/>
<circle id="n879_1895" cx="879" cy="1895"/><circle id="n879_1915" cx="879" cy="1915"/>
<circle id="n863_1935" cx="863" cy="1935"/><circle id="n863_1956" cx="863" cy="1956"/><circle id="n863_1976" cx="863" cy="1976"/><circle id="n863_1996" cx="863" cy="1996"/>
<circle id="n895_1935" cx="895" cy="1935"/><circle id="n895_1956" cx="895" cy="1956"/>
<circle id="n895_1976" cx="895" cy="1976"/><circle id="n895_1996" cx="895" cy="1996"/><circle id="n895_2016" cx="895" cy="2016"/><circle id="n895_2037" cx="895" cy="2037"/>
<circle id="n929_1976" cx="929" cy="1976"/><circle id="n929_1996" cx="929" cy="1996"/><circle id="n929_2016" cx="929" cy="2016"/><circle id="n929_2037" cx="929" cy="2037"/>
<circle id="n916_1895" cx="916" cy="1895"/><circle id="n920_1915" cx="920" cy="1915"/><circle id="n929_1935" cx="929" cy="1935"/><circle id="n929_1956" cx="929" cy="1956"/>
<circle id="n962_1976" cx="962" cy="1976"/><circle id="n962_1996" cx="962" cy="1996"/><circle id="n962_2016" cx="962" cy="2016"/><circle id="n962_2037" cx="962" cy="2037"/>
<circle id="n31_2057" cx="31" cy="2057"/><circle id="n29_2077" cx="29" cy="2077"/><circle id="n27_2098" cx="27" cy="2098"/><circle id="n27_2118" cx="27" cy="2118"/>
<circle id="n82_2057" cx="82" cy="2057"/><circle id="n86_2077" cx="86" cy="2077"/>
<circle id="n61_2098" cx="61" cy="2098"/><circle id="n61_2118" cx="61" cy="2118"/><circle id="n61_2138" cx="61" cy="2138"/><circle id="n61_2158" cx="61" cy="2158"/><circle id="n61_2179" cx="61" cy="2179"/><circle id="n61_2199" cx="61" cy="2199"/>
<circle id="n94_2098" cx="94" cy="2098"/><circle id="n94_2118" cx="94" cy="2118"/>
<circle id="n127_2098" cx="127" cy="2098"/><circle id="n127_2118" cx="127" cy="2118"/>
<circle id="n161_2138" cx="161" cy="2138"/><circle id="n161_2158" cx="161" cy="2158"/><circle id="n161_2179" cx="161" cy="2179"/><circle id="n161_2199" cx="161" cy="2199"/>
<circle id="n127_2138" cx="127" cy="2138"/><circle id="n127_2158" cx="127" cy="2158"/><circle id="n127_2179" cx="127" cy="2179"/><circle id="n127_2199" cx="127" cy="2199"/>
<circle id="n119_2219" cx="119" cy="2219"/><circle id="n119_2239" cx="119" cy="2239"/>
<circle id="n152_2219" cx="152" cy="2219"/><circle id="n152_2239" cx="152" cy="2239"/>
<circle id="n142_2260" cx="142" cy="2260"/><circle id="n142_2280" cx="142" cy="2280"/>
<circle id="n175_2260" cx="175" cy="2260"/><circle id="n175_2280" cx="175" cy="2280"/><circle id="n175_2300" cx="175" cy="2300"/><circle id="n175_2320" cx="175" cy="2320"/>
<circle id="n226_2057" cx="226" cy="2057"/><circle id="n226_2077" cx="226" cy="2077"/>
<circle id="n214_2098" cx="214" cy="2098"/><circle id="n214_2118" cx="214" cy="2118"/>
<circle id="n247_2098" cx="247" cy="2098"/><circle id="n247_2118" cx="247" cy="2118"/>
<circle id="n269_2138" cx="269" cy="2138"/><circle id="n269_2158" cx="269" cy="2158"/>
<circle id="n235_2138" cx="235" cy="2138"/><circle id="n235_2158" cx="235" cy="2158"/><circle id="n235_2179" cx="235" cy="2179"/><circle id="n235_2199" cx="235" cy="2199"/><circle id="n235_2219" cx="235" cy="2219"/><circle id="n235_2239" cx="235" cy="2239"/>
<circle id="n219_2260" cx="219" cy="2260"/><circle id="n219_2280" cx="219" cy="2280"/><circle id="n219_2300" cx="219" cy="2300"/><circle id="n219_2320" cx="219" cy="2320"/>
<circle id="n253_2260" cx="253" cy="2260"/><circle id="n253_2280" cx="253" cy="2280"/><circle id="n253_2300" cx="253" cy="2300"/><circle id="n253_2320" cx="253" cy="2320"/>
<circle id="n237_2341" cx="237" cy="2341"/><circle id="n237_2361" cx="237" cy="2361"/>
<circle id="n270_2341" cx="270" cy="2341"/><circle id="n270_2361" cx="270" cy="2361"/><circle id="n270_2381" cx="270" cy="2381"/><circle id="n270_2402" cx="270" cy="2402"/>
<circle id="n493_2057" cx="493" cy="2057"/><circle id="n493_2077" cx="493" cy="2077"/><circle id="n493_2098" cx="493" cy="2098"/><circle id="n493_2118" cx="493" cy="2118"/>
<circle id="n451_2138" cx="451" cy="2138"/><circle id="n443_2158" cx="443" cy="2158"/><circle id="n426_2179" cx="426" cy="2179"/><circle id="n426_2199" cx="426" cy="2199"/>
<circle id="n393_2219" cx="393" cy="2219"/><circle id="n393_2239" cx="393" cy="2239"/>
<circle id="n426_2219" cx="426" cy="2219"/><circle id="n426_2239" cx="426" cy="2239"/>
<circle id="n493_2138" cx="493" cy="2138"/><circle id="n493_2158" cx="493" cy="2158"/>
<circle id="n459_2179" cx="459" cy="2179"/><circle id="n459_2199" cx="459" cy="2199"/><circle id="n459_2219" cx="459" cy="2219"/><circle id="n459_2239" cx="459" cy="2239"/>
<circle id="n493_2179" cx="493" cy="2179"/><circle id="n493_2199" cx="493" cy="2199"/><circle id="n493_2219" cx="493" cy="2219"/><circle id="n493_2239" cx="493" cy="2239"/>
<circle id="n526_2179" cx="526" cy="2179"/><circle id="n526_2199" cx="526" cy="2199"/><circle id="n526_2219" cx="526" cy="2219"/><circle id="n526_2239" cx="526" cy="2239"/>
<circle id="n459_2260" cx="459" cy="2260"/><circle id="n459_2280" cx="459" cy="2280"/><circle id="n459_2300" cx="459" cy="2300"/><circle id="n459_2320" cx="459" cy="2320"/><circle id="n459_2341" cx="459" cy="2341"/><circle id="n459_2361" cx="459" cy="2361"/><circle id="n459_2381" cx="459" cy="2381"/><circle id="n459_2402" cx="459" cy="2402"/>
<circle id="n493_2260" cx="493" cy="2260"/><circle id="n493_2280" cx="493" cy="2280"/>
<circle id="n526_2260" cx="526" cy="2260"/><circle id="n526_2280" cx="526" cy="2280"/>
<circle id="n559_2260" cx="559" cy="2260"/><circle id="n559_2280" cx="559" cy="2280"/>
<circle id="n526_2300" cx="526" cy="2300"/><circle id="n526_2320" cx="526" cy="2320"/>
<circle id="n559_2300" cx="559" cy="2300"/><circle id="n559_2320" cx="559" cy="2320"/><circle id="n559_2341" cx="559" cy="2341"/><circle id="n559_2361" cx="559" cy="2361"/><circle id="n559_2381" cx="559" cy="2381"/><circle id="n559_2402" cx="559" cy="2402"/><circle id="n559_2422" cx="559" cy="2422"/><circle id="n559_2442" cx="559" cy="2442"/><circle id="n559_2462" cx="559" cy="2462"/><circle id="n559_2483" cx="559" cy="2483"/>
<circle id="n675_2057" cx="675" cy="2057"/><circle id="n675_2077" cx="675" cy="2077"/><circle id="n675_2098" cx="675" cy="2098"/><circle id="n675_2118" cx="675" cy="2118"/><circle id="n675_2138" cx="675" cy="2138"/><circle id="n666_2158" cx="666" cy="2158"/>
<circle id="n625_2179" cx="625" cy="2179"/><circle id="n625_2199" cx="625" cy="2199"/>
<circle id="n658_2179" cx="658" cy="2179"/><circle id="n658_2199" cx="658" cy="2199"/>
<circle id="n691_2179" cx="691" cy="2179"/><circle id="n691_2199" cx="691" cy="2199"/><circle id="n691_2219" cx="691" cy="2219"/><circle id="n691_2239" cx="691" cy="2239"/><circle id="n691_2260" cx="691" cy="2260"/><circle id="n691_2280" cx="691" cy="2280"/>
<circle id="n691_2300" cx="691" cy="2300"/><circle id="n691_2320" cx="691" cy="2320"/>
<circle id="n658_2300" cx="658" cy="2300"/><circle id="n658_2320" cx="658" cy="2320"/>
<circle id="n625_2341" cx="625" cy="2341"/><circle id="n625_2361" cx="625" cy="2361"/><circle id="n625_2381" cx="625" cy="2381"/><circle id="n625_2402" cx="625" cy="2402"/><circle id="n625_2422" cx="625" cy="2422"/><circle id="n625_2442" cx="625" cy="2442"/>
<circle id="n658_2341" cx="658" cy="2341"/><circle id="n658_2361" cx="658" cy="2361"/><circle id="n658_2381" cx="658" cy="2381"/><circle id="n658_2402" cx="658" cy="2402"/><circle id="n658_2422" cx="658" cy="2422"/><circle id="n658_2442" cx="658" cy="2442"/>
<circle id="n724_2057" cx="724" cy="2057"/><circle id="n724_2077" cx="724" cy="2077"/><circle id="n724_2098" cx="724" cy="2098"/><circle id="n724_2118" cx="724" cy="2118"/>
<circle id="n724_2138" cx="724" cy="2138"/><circle id="n724_2158" cx="724" cy="2158"/><circle id="n724_2179" cx="724" cy="2179"/><circle id="n724_2199" cx="724" cy="2199"/>
<circle id="n757_2138" cx="757" cy="2138"/><circle id="n757_2158" cx="757" cy="2158"/>
<circle id="n790_2179" cx="790" cy="2179"/><circle id="n790_2199" cx="790" cy="2199"/>
<circle id="n757_2179" cx="757" cy="2179"/><circle id="n757_2199" cx="757" cy="2199"/>
<circle id="n757_2219" cx="757" cy="2219"/><circle id="n757_2239" cx="757" cy="2239"/>
<circle id="n790_2219" cx="790" cy="2219"/><circle id="n790_2239" cx="790" cy="2239"/>
<circle id="n790_2260" cx="790" cy="2260"/><circle id="n790_2280" cx="790" cy="2280"/><circle id="n790_2300" cx="790" cy="2300"/><circle id="n790_2320" cx="790" cy="2320"/>
<circle id="n823_2260" cx="823" cy="2260"/><circle id="n839_2280" cx="839" cy="2280"/>
<circle id="n872_2300" cx="872" cy="2300"/><circle id="n872_2320" cx="872" cy="2320"/>
<circle id="n839_2300" cx="839" cy="2300"/><circle id="n839_2320" cx="839" cy="2320"/>
<circle id="n839_2341" cx="839" cy="2341"/><circle id="n839_2361" cx="839" cy="2361"/>
<circle id="n877_2341" cx="877" cy="2341"/><circle id="n882_2361" cx="882" cy="2361"/><circle id="n889_2381" cx="889" cy="2381"/><circle id="n889_2402" cx="889" cy="2402"/><circle id="n889_2422" cx="889" cy="2422"/><circle id="n889_2442" cx="889" cy="2442"/><circle id="n889_2462" cx="889" cy="2462"/><circle id="n889_2483" cx="889" cy="2483"/><circle id="n889_2503" cx="889" cy="2503"/><circle id="n889_2523" cx="889" cy="2523"/><circle id="n889_2543" cx="889" cy="2543"/><circle id="n889_2564" cx="889" cy="2564"/>
<circle id="n823_2381" cx="823" cy="2381"/><circle id="n823_2402" cx="823" cy="2402"/><circle id="n823_2422" cx="823" cy="2422"/><circle id="n823_2442" cx="823" cy="2442"/>
<circle id="n856_2381" cx="856" cy="2381"/><circle id="n856_2402" cx="856" cy="2402"/>
<circle id="n757_2341" cx="757" cy="2341"/><circle id="n757_2361" cx="757" cy="2361"/><circle id="n757_2381" cx="757" cy="2381"/><circle id="n757_2402" cx="757" cy="2402"/>
<circle id="n790_2341" cx="790" cy="2341"/><circle id="n790_2361" cx="790" cy="2361"/><circle id="n790_2381" cx="790" cy="2381"/><circle id="n790_2402" cx="790" cy="2402"/><circle id="n790_2422" cx="790" cy="2422"/><circle id="n790_2442" cx="790" cy="2442"/>
<circle id="n724_2422" cx="724" cy="2422"/><circle id="n724_2442" cx="724" cy="2442"/>
<circle id="n757_2422" cx="757" cy="2422"/><circle id="n757_2442" cx="757" cy="2442"/>
<circle id="n863_2057" cx="863" cy="2057"/><circle id="n863_2077" cx="863" cy="2077"/>
<circle id="n895_2057" cx="895" cy="2057"/><circle id="n895_2077" cx="895" cy="2077"/>
<circle id="n929_2057" cx="929" cy="2057"/><circle id="n929_2077" cx="929" cy="2077"/><circle id="n929_2098" cx="929" cy="2098"/><circle id="n929_2118" cx="929" cy="2118"/>
<circle id="n962_2057" cx="962" cy="2057"/><circle id="n962_2077" cx="962" cy="2077"/><circle id="n962_2098" cx="962" cy="2098"/><circle id="n962_2118" cx="962" cy="2118"/>
<circle id="n929_2138" cx="929" cy="2138"/><circle id="n929_2158" cx="929" cy="2158"/><circle id="n929_2179" cx="929" cy="2179"/><circle id="n929_2199" cx="929" cy="2199"/><circle id="n929_2219" cx="929" cy="2219"/><circle id="n929_2239" cx="929" cy="2239"/>
<circle id="n962_2138" cx="962" cy="2138"/><circle id="n962_2158" cx="962" cy="2158"/>
<circle id="n962_2179" cx="962" cy="2179"/><circle id="n962_2199" cx="962" cy="2199"/><circle id="n962_2219" cx="962" cy="2219"/><circle id="n962_2239" cx="962" cy="2239"/>
<circle id="n995_2179" cx="995" cy="2179"/><circle id="n995_2199" cx="995" cy="2199"/>
<circle id="n913_2260" cx="913" cy="2260"/><circle id="n913_2280" cx="913" cy="2280"/><circle id="n913_2300" cx="913" cy="2300"/><circle id="n913_2320" cx="913" cy="2320"/><circle id="n916_2341" cx="916" cy="2341"/><circle id="n920_2361" cx="920" cy="2361"/><circle id="n922_2381" cx="922" cy="2381"/><circle id="n922_2402" cx="922" cy="2402"/><circle id="n922_2422" cx="922" cy="2422"/><circle id="n922_2442" cx="922" cy="2442"/><circle id="n922_2462" cx="922" cy="2462"/><circle id="n922_2483" cx="922" cy="2483"/><circle id="n922_2503" cx="922" cy="2503"/><circle id="n922_2523" cx="922" cy="2523"/>
<circle id="n947_2260" cx="947" cy="2260"/><circle id="n947_2280" cx="947" cy="2280"/>
<circle id="n947_2300" cx="947" cy="2300"/><circle id="n947_2320" cx="947" cy="2320"/>
<circle id="n979_2300" cx="979" cy="2300"/><circle id="n979_2320" cx="979" cy="2320"/><circle id="n979_2341" cx="979" cy="2341"/><circle id="n979_2361" cx="979" cy="2361"/>
<circle id="n995_2260" cx="995" cy="2260"/><circle id="n1003_2280" cx="1003" cy="2280"/><circle id="n1013_2300" cx="1013" cy="2300"/><circle id="n1013_2320" cx="1013" cy="2320"/>
<circle id="n955_2462" cx="955" cy="2462"/><circle id="n955_2483" cx="955" cy="2483"/>
<circle id="n856_2584" cx="856" cy="2584"/><circle id="n856_2604" cx="856" cy="2604"/>
<circle id="n889_2584" cx="889" cy="2584"/><circle id="n889_2604" cx="889" cy="2604"/>
<circle id="n922_2584" cx="922" cy="2584"/><circle id="n922_2604" cx="922" cy="2604"/>
<circle id="n905_2624" cx="905" cy="2624"/><circle id="n905_2645" cx="905" cy="2645"/>
<circle id="n938_2624" cx="938" cy="2624"/><circle id="n938_2645" cx="938" cy="2645"/>
<circle id="n823_2462" cx="823" cy="2462"/><circle id="n823_2483" cx="823" cy="2483"/>
<circle id="n856_2462" cx="856" cy="2462"/><circle id="n856_2483" cx="856" cy="2483"/>
<circle id="n757_2462" cx="757" cy="2462"/><circle id="n757_2483" cx="757" cy="2483"/>
<circle id="n790_2462" cx="790" cy="2462"/><circle id="n790_2483" cx="790" cy="2483"/><circle id="n790_2503" cx="790" cy="2503"/><circle id="n790_2523" cx="790" cy="2523"/>
<circle id="n724_2462" cx="724" cy="2462"/><circle id="n724_2483" cx="724" cy="2483"/>
<circle id="n691_2462" cx="691" cy="2462"/><circle id="n691_2483" cx="691" cy="2483"/><circle id="n691_2503" cx="691" cy="2503"/><circle id="n691_2523" cx="691" cy="2523"/>
<circle id="n658_2543" cx="658" cy="2543"/><circle id="n658_2564" cx="658" cy="2564"/><circle id="n658_2584" cx="658" cy="2584"/><circle id="n658_2604" cx="658" cy="2604"/>
<circle id="n691_2543" cx="691" cy="2543"/><circle id="n691_2564" cx="691" cy="2564"/>
<circle id="n691_2584" cx="691" cy="2584"/><circle id="n691_2604" cx="691" cy="2604"/><circle id="n691_2624" cx="691" cy="2624"/><circle id="n691_2645" cx="691" cy="2645"/><circle id="n691_2665" cx="691" cy="2665"/><circle id="n691_2685" cx="691" cy="2685"/><circle id="n691_2706" cx="691" cy="2706"/><circle id="n691_2726" cx="691" cy="2726"/>
<circle id="n724_2584" cx="724" cy="2584"/><circle id="n724_2604" cx="724" cy="2604"/>
<circle id="n724_2624" cx="724" cy="2624"/><circle id="n724_2645" cx="724" cy="2645"/>
<circle id="n757_2624" cx="757" cy="2624"/><circle id="n757_2645" cx="757" cy="2645"/><circle id="n757_2665" cx="757" cy="2665"/><circle id="n757_2685" cx="757" cy="2685"/><circle id="n757_2706" cx="757" cy="2706"/><circle id="n757_2726" cx="757" cy="2726"/><circle id="n757_2746" cx="757" cy="2746"/><circle id="n757_2766" cx="757" cy="2766"/><circle id="n757_2787" cx="757" cy="2787"/><circle id="n757_2807" cx="757" cy="2807"/><circle id="n757_2827" cx="757" cy="2827"/><circle id="n757_2847" cx="757" cy="2847"/>
<circle id="n625_2462" cx="625" cy="2462"/><circle id="n625_2483" cx="625" cy="2483"/><circle id="n625_2503" cx="625" cy="2503"/><circle id="n625_2523" cx="625" cy="2523"/><circle id="n625_2543" cx="625" cy="2543"/><circle id="n625_2564" cx="625" cy="2564"/>
<circle id="n658_2462" cx="658" cy="2462"/><circle id="n658_2483" cx="658" cy="2483"/><circle id="n658_2503" cx="658" cy="2503"/><circle id="n658_2523" cx="658" cy="2523"/>
<circle id="n592_2584" cx="592" cy="2584"/><circle id="n592_2604" cx="592" cy="2604"/>
<circle id="n625_2584" cx="625" cy="2584"/><circle id="n625_2604" cx="625" cy="2604"/>
<circle id="n525_2503" cx="525" cy="2503"/><circle id="n525_2523" cx="525" cy="2523"/>
<circle id="n525_2543" cx="525" cy="2543"/><circle id="n525_2564" cx="525" cy="2564"/>
<circle id="n493_2543" cx="493" cy="2543"/><circle id="n493_2564" cx="493" cy="2564"/><circle id="n493_2584" cx="493" cy="2584"/><circle id="n493_2604" cx="493" cy="2604"/><circle id="n493_2624" cx="493" cy="2624"/><circle id="n493_2645" cx="493" cy="2645"/>
<circle id="n493_2665" cx="493" cy="2665"/><circle id="n493_2685" cx="493" cy="2685"/>
<circle id="n493_2706" cx="493" cy="2706"/><circle id="n493_2726" cx="493" cy="2726"/>
<circle id="n525_2706" cx="525" cy="2706"/><circle id="n525_2726" cx="525" cy="2726"/>
<circle id="n459_2665" cx="459" cy="2665"/><circle id="n459_2685" cx="459" cy="2685"/><circle id="n459_2706" cx="459" cy="2706"/><circle id="n459_2726" cx="459" cy="2726"/>
<circle id="n443_2746" cx="443" cy="2746"/><circle id="n443_2766" cx="443" cy="2766"/><circle id="n443_2787" cx="443" cy="2787"/><circle id="n443_2807" cx="443" cy="2807"/><circle id="n443_2827" cx="443" cy="2827"/><circle id="n443_2847" cx="443" cy="2847"/>
<circle id="n478_2746" cx="478" cy="2746"/><circle id="n478_2766" cx="478" cy="2766"/><circle id="n478_2787" cx="478" cy="2787"/><circle id="n480_2807" cx="480" cy="2807"/><circle id="n481_2827" cx="481" cy="2827"/><circle id="n485_2847" cx="485" cy="2847"/><circle id="n494_2868" cx="494" cy="2868"/><circle id="n494_2888" cx="494" cy="2888"/><circle id="n494_2908" cx="494" cy="2908"/><circle id="n494_2928" cx="494" cy="2928"/>
<circle id="n393_2868" cx="393" cy="2868"/><circle id="n394_2888" cx="394" cy="2888"/><circle id="n394_2908" cx="394" cy="2908"/><circle id="n394_2928" cx="394" cy="2928"/><circle id="n394_2949" cx="394" cy="2949"/><circle id="n394_2969" cx="394" cy="2969"/><circle id="n394_2989" cx="394" cy="2989"/><circle id="n394_3010" cx="394" cy="3010"/>
<circle id="n361_2949" cx="361" cy="2949"/><circle id="n361_2969" cx="361" cy="2969"/>
<circle id="n361_2989" cx="361" cy="2989"/><circle id="n361_3010" cx="361" cy="3010"/><circle id="n361_3030" cx="361" cy="3030"/><circle id="n361_3050" cx="361" cy="3050"/>
<circle id="n427_2868" cx="427" cy="2868"/><circle id="n427_2888" cx="427" cy="2888"/>
<circle id="n461_2868" cx="461" cy="2868"/><circle id="n461_2888" cx="461" cy="2888"/>
<circle id="n427_2908" cx="427" cy="2908"/><circle id="n427_2928" cx="427" cy="2928"/><circle id="n427_2949" cx="427" cy="2949"/><circle id="n427_2969" cx="427" cy="2969"/>
<circle id="n461_2908" cx="461" cy="2908"/><circle id="n461_2928" cx="461" cy="2928"/><circle id="n461_2949" cx="461" cy="2949"/><circle id="n461_2969" cx="461" cy="2969"/>
<circle id="n427_2989" cx="427" cy="2989"/><circle id="n427_3010" cx="427" cy="3010"/>
<circle id="n461_2989" cx="461" cy="2989"/><circle id="n461_3010" cx="461" cy="3010"/>
<circle id="n443_3030" cx="443" cy="3030"/><circle id="n443_3050" cx="443" cy="3050"/>
<circle id="n477_3030" cx="477" cy="3030"/><circle id="n477_3050" cx="477" cy="3050"/>
<circle id="n493_3070" cx="493" cy="3070"/><circle id="n493_3091" cx="493" cy="3091"/>
<circle id="n459_3070" cx="459" cy="3070"/><circle id="n459_3091" cx="459" cy="3091"/>
<circle id="n443_3111" cx="443" cy="3111"/><circle id="n443_3131" cx="443" cy="3131"/><circle id="n443_3151" cx="443" cy="3151"/><circle id="n443_3172" cx="443" cy="3172"/><circle id="n443_3192" cx="443" cy="3192"/><circle id="n443_3212" cx="443" cy="3212"/>
<circle id="n477_3111" cx="477" cy="3111"/><circle id="n477_3131" cx="477" cy="3131"/>
<circle id="n510_3151" cx="510" cy="3151"/><circle id="n510_3172" cx="510" cy="3172"/><circle id="n510_3192" cx="510" cy="3192"/><circle id="n510_3212" cx="510" cy="3212"/><circle id="n510_3232" cx="510" cy="3232"/><circle id="n510_3253" cx="510" cy="3253"/>
<circle id="n477_3151" cx="477" cy="3151"/><circle id="n477_3172" cx="477" cy="3172"/><circle id="n477_3192" cx="477" cy="3192"/><circle id="n477_3212" cx="477" cy="3212"/><circle id="n477_3232" cx="477" cy="3232"/><circle id="n477_3253" cx="477" cy="3253"/><circle id="n477_3273" cx="477" cy="3273"/><circle id="n477_3293" cx="477" cy="3293"/><circle id="n477_3314" cx="477" cy="3314"/><circle id="n477_3334" cx="477" cy="3334"/>
<circle id="n461_3354" cx="461" cy="3354"/><circle id="n461_3374" cx="461" cy="3374"/><circle id="n461_3395" cx="461" cy="3395"/><circle id="n461_3415" cx="461" cy="3415"/>
<circle id="n494_3354" cx="494" cy="3354"/><circle id="n494_3374" cx="494" cy="3374"/><circle id="n494_3395" cx="494" cy="3395"/><circle id="n494_3415" cx="494" cy="3415"/><circle id="n494_3435" cx="494" cy="3435"/><circle id="n494_3455" cx="494" cy="3455"/><circle id="n494_3476" cx="494" cy="3476"/><circle id="n494_3496" cx="494" cy="3496"/>
<circle id="n427_3435" cx="427" cy="3435"/><circle id="n427_3455" cx="427" cy="3455"/>
<circle id="n461_3435" cx="461" cy="3435"/><circle id="n461_3455" cx="461" cy="3455"/>
<circle id="n559_2503" cx="559" cy="2503"/><circle id="n559_2523" cx="559" cy="2523"/><circle id="n559_2543" cx="559" cy="2543"/><circle id="n559_2564" cx="559" cy="2564"/>
<circle id="n525_2584" cx="525" cy="2584"/><circle id="n525_2604" cx="525" cy="2604"/><circle id="n525_2624" cx="525" cy="2624"/><circle id="n525_2645" cx="525" cy="2645"/><circle id="n525_2665" cx="525" cy="2665"/><circle id="n525_2685" cx="525" cy="2685"/>
<circle id="n559_2584" cx="559" cy="2584"/><circle id="n559_2604" cx="559" cy="2604"/>
</g>
</svg>
